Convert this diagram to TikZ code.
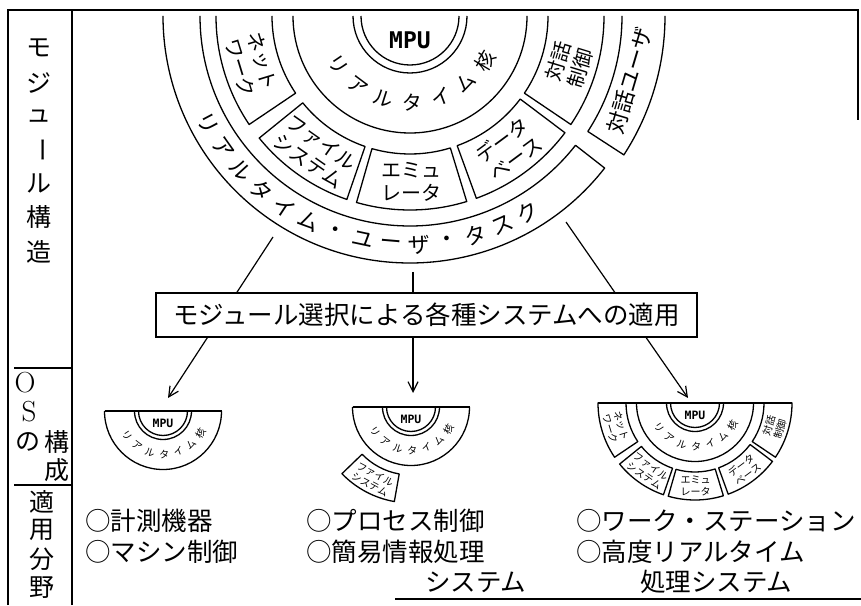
\documentclass[tikz,border=0pt]{standalone}
\usepackage{fontspec}
\newfontfamily\jp{Noto Sans CJK JP}
\newfontfamily\mpuf{DejaVu Sans Mono}
\usetikzlibrary{arrows.meta}
\tikzset{
  ln/.style={line width=1.3pt, line join=round},
  frm/.style={line width=1.4pt},
  arr/.style={line width=1.2pt,-{Straight Barb[length=10pt,width=10pt,line width=1.2pt]}},
  jtxt/.style={font=\jp\fontsize{25.5}{30}\selectfont, inner sep=0pt},
  side/.style={font=\jp\fontsize{25}{25}\selectfont, inner sep=0pt},
  latn/.style={font=\fontsize{29}{29}\selectfont, inner sep=0pt},
  ktext/.style={font=\jp\fontsize{20}{20}\selectfont, inner sep=0pt},
  utext/.style={font=\jp\fontsize{22}{22}\selectfont, inner sep=0pt},
  btext/.style={font=\jp\fontsize{20}{23}\selectfont, align=center, inner sep=0pt},
  mputxt/.style={font=\mpuf\bfseries\fontsize{23}{23}\selectfont, inner sep=0pt},
}
\newcommand\sect[4]{\draw[ln] (#1:#3) arc[start angle=#1,end angle=#2,radius=#3] -- (#2:#4) arc[start angle=#2,end angle=#1,radius=#4] -- cycle;}
\newcommand\sectL[3]{\draw[ln] (180:#2) arc[start angle=180,end angle=#1,radius=#2] -- (#1:#3) arc[start angle=#1,end angle=180,radius=#3];}
\newcommand\sectR[3]{\draw[ln] (360:#2) arc[start angle=360,end angle=#1,radius=#2] -- (#1:#3) arc[start angle=#1,end angle=360,radius=#3];}
\newcommand\core[1]{%
  \draw[ln] (180:49) arc[start angle=180,end angle=360,radius=49];
  \draw[ln] (180:57) arc[start angle=180,end angle=360,radius=57];
  \draw[ln] (180:117) arc[start angle=180,end angle=360,radius=117];
  \node[mputxt] (#1mpu) at (0,-24) {MPU};
  \foreach \c [count=\i] in {リ,ア,ル,タ,イ,ム,核}{%
    \pgfmathsetmacro\ang{214+(\i-1)*19.2}%
    \node[ktext, rotate=\ang+90] (#1k\i) at (\ang:87) {\c};}%
}
\newcommand\ringtexts[1]{%
  \node[btext, rotate=-73] (#1net) at (197:166) {ネット\\ワーク};
  \node[btext, rotate=-35] (#1fs) at (235:166) {ファイル\\システム};
  \node[btext] (#1emu) at (270.5:166) {エミュ\\レータ};
  \node[btext, rotate=36.5] (#1db) at (306.5:166) {データ\\ベース};
  \node[btext, rotate=73] (#1dc) at (343:166) {対話\\制御};
}
\begin{document}
\begin{tikzpicture}[x=1pt,y=1pt]
\useasboundingbox (0,0) rectangle (861,605);
% frame
\draw[frm] (8,0) -- (8,595) -- (858,595) -- (858,485);
\draw[frm] (72,0) -- (72,595);
\draw[frm] (14,237) -- (72,237);
\draw[frm] (14,120) -- (72,120);
\draw[frm] (395,6) -- (861,6);
% left column
\node[side] (m1) at (39,557) {モ};
\node[side] (m2) at (39,522) {ジ};
\node[side] (m3) at (39,489) {ュ};
\node[side, rotate=-90] (m4) at (39,455) {ー};
\node[side] (m5) at (39,422) {ル};
\node[side] (m6) at (39,388) {構};
\node[side] (m7) at (39,353) {造};
\node[latn] (o1) at (25,222) {O};
\node[latn] (o2) at (29,193) {S};
\node[side] (o3) at (28,163) {の};
\node[side] (o4) at (57,163) {構};
\node[side] (o5) at (57,135) {成};
\node[side] (t1) at (42,103) {適};
\node[side] (t2) at (42,75) {用};
\node[side] (t3) at (42,46) {分};
\node[side] (t4) at (42,17) {野};
% big diagram
\begin{scope}[shift={(410,589)}]
  \core{b}
  \sectL{214}{138}{194}
  \sect{219}{251}{138}{194}
  \sect{254}{287}{138}{194}
  \sect{290}{323}{138}{194}
  \sectR{326}{138}{194}
  \ringtexts{b}
  \sectL{322}{210}{247}
  \sectR{327}{212}{255}
  \node[utext, rotate=73.5] (dlgu) at (343.5:229) {対話ユーザ};
  \foreach \c/\a [count=\i] in {リ/208,ア/215.2,ル/222.3,タ/229.5,イ/236.6,ム/243.8,・/250.9,ユ/258,ー/265.2,ザ/272.3,・/279.5,タ/286.6,ス/293.8,ク/301}{%
    \node[utext, rotate=\a+90] (u\i) at (\a:229) {\c};}
\end{scope}
% connectors
\coordinate (lA) at (273,368);
\coordinate (lB) at (168,207);
\coordinate (mA) at (413,333);
\coordinate (mB) at (413,212);
\coordinate (rA) at (566,383);
\coordinate (rB) at (688,207);
\draw[arr] (lA) -- (lB);
\draw[arr] (mA) -- (mB);
\draw[arr] (rA) -- (rB);
\node[jtxt, draw, frm, fill=white, minimum width=541, minimum height=44] (apply) at (426.5,290) {モジュール選択による各種システムへの適用};
% small diagrams
\begin{scope}[shift={(163,194)}, scale=0.5, transform shape]
  \core{l}
  \draw[ln] (-117,0) -- (117,0);
\end{scope}
\begin{scope}[shift={(411,198)}, scale=0.5, transform shape]
  \core{m}
  \draw[ln] (-117,0) -- (117,0);
  \sect{224}{260}{136}{192}
  \node[btext, rotate=-28] (mfs) at (242:164) {ファイル\\システム};
\end{scope}
\begin{scope}[shift={(695,202)}, scale=0.5, transform shape]
  \core{r}
  \draw[ln] (-194,0) -- (194,0);
  \sect{180}{214}{138}{194}
  \sect{219}{251}{138}{194}
  \sect{254}{287}{138}{194}
  \sect{290}{323}{138}{194}
  \sect{326}{360}{138}{194}
  \ringtexts{r}
\end{scope}
% application fields
\node[jtxt, anchor=west] (f1) at (85,84) {○計測機器};
\node[jtxt, anchor=west] (f2) at (85,53) {○マシン制御};
\node[jtxt, anchor=west] (f3) at (306,84) {○プロセス制御};
\node[jtxt, anchor=west] (f4) at (306,53) {○簡易情報処理};
\node[jtxt, anchor=west] (f5) at (425,23) {システム};
\node[jtxt, anchor=west] (f6) at (576,84) {○ワーク・ステーション};
\node[jtxt, anchor=west] (f7) at (576,53) {○高度リアルタイム};
\node[jtxt, anchor=west] (f8) at (640,23) {処理システム};
\end{tikzpicture}
\end{document}
